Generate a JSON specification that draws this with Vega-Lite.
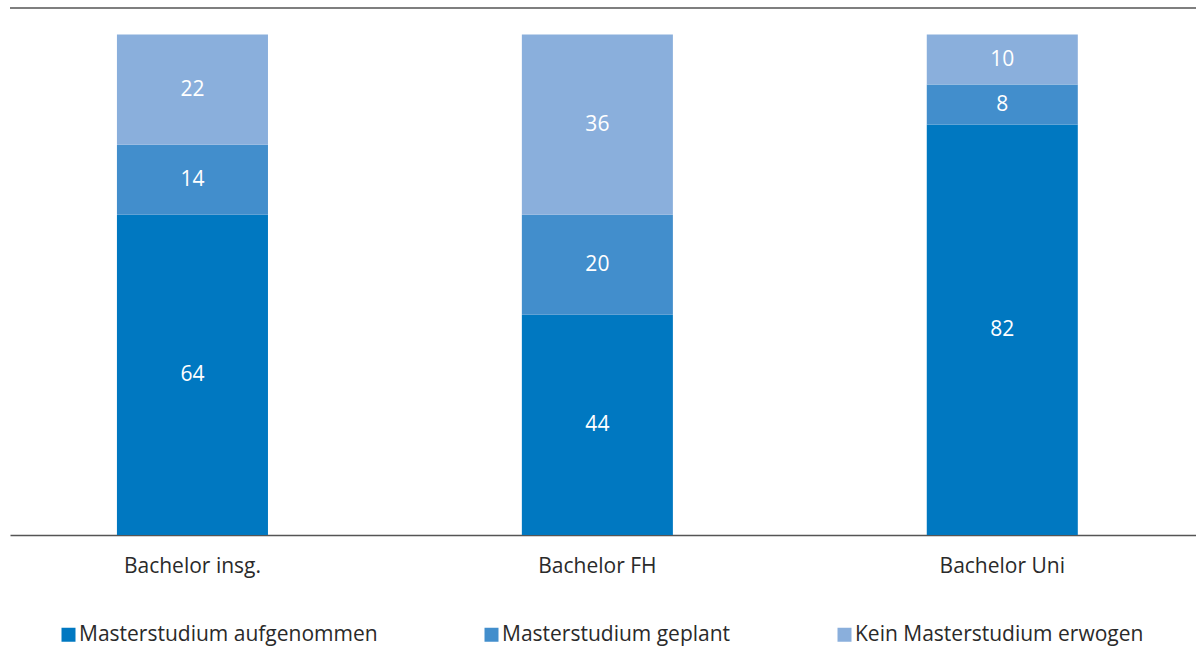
{
  "$schema": "https://vega.github.io/schema/vega-lite/v6.json",
  "width": 1186,
  "height": 527,
  "autosize": "none",
  "padding": {"left": 10, "top": 8, "right": 0, "bottom": 135},
  "background": "white",
  "config": {"view": {"stroke": null}, "font": "Open Sans"},
  "data": {
    "values": [
      {"gruppe": "Bachelor insg.", "kategorie": "Masterstudium aufgenommen", "rang": 1, "anteil": 64},
      {"gruppe": "Bachelor insg.", "kategorie": "Masterstudium geplant", "rang": 2, "anteil": 14},
      {"gruppe": "Bachelor insg.", "kategorie": "Kein Masterstudium erwogen", "rang": 3, "anteil": 22},
      {"gruppe": "Bachelor FH", "kategorie": "Masterstudium aufgenommen", "rang": 1, "anteil": 44},
      {"gruppe": "Bachelor FH", "kategorie": "Masterstudium geplant", "rang": 2, "anteil": 20},
      {"gruppe": "Bachelor FH", "kategorie": "Kein Masterstudium erwogen", "rang": 3, "anteil": 36},
      {"gruppe": "Bachelor Uni", "kategorie": "Masterstudium aufgenommen", "rang": 1, "anteil": 82},
      {"gruppe": "Bachelor Uni", "kategorie": "Masterstudium geplant", "rang": 2, "anteil": 8},
      {"gruppe": "Bachelor Uni", "kategorie": "Kein Masterstudium erwogen", "rang": 3, "anteil": 10}
    ]
  },
  "transform": [
    {"stack": "anteil", "groupby": ["gruppe"], "sort": [{"field": "rang", "order": "ascending"}], "as": ["y0", "y1"]}
  ],
  "layer": [
    {
      "mark": {"type": "bar"},
      "encoding": {
        "x": {
          "field": "gruppe", "type": "nominal",
          "sort": ["Bachelor insg.", "Bachelor FH", "Bachelor Uni"],
          "scale": {"paddingInner": 0.627, "paddingOuter": 0.278, "align": 0.475},
          "axis": {"title": null, "ticks": false, "labelAngle": 0, "labelFontSize": 21, "labelColor": "#2a2a2a", "labelPadding": 20, "domainColor": "#555555", "domainWidth": 1.5, "labelFont": "Open Sans"}
        },
        "y": {"field": "y0", "type": "quantitative", "scale": {"domain": [0, 105.3], "nice": false}, "axis": null},
        "y2": {"field": "y1"},
        "color": {
          "field": "kategorie", "type": "nominal",
          "scale": {
            "domain": ["Masterstudium aufgenommen", "Masterstudium geplant", "Kein Masterstudium erwogen"],
            "range": ["#0078C1", "#428ECC", "#8AAFDC"]
          },
          "legend": {
            "title": null, "orient": "none", "direction": "horizontal",
            "legendX": 48, "legendY": 616,
            "symbolType": "square", "symbolSize": 196, "symbolStrokeWidth": 0,
            "labelFontSize": 21, "labelColor": "#2a2a2a", "labelOffset": 0,
            "labelLimit": 500, "columnPadding": 103, "labelFont": "Open Sans"
          }
        }
      }
    },
    {
      "transform": [
        {"fold": ["y0", "y1"], "as": ["grenze", "wert"]},
        {"aggregate": [{"op": "mean", "field": "wert", "as": "mitte"}], "groupby": ["gruppe", "kategorie", "anteil"]}
      ],
      "mark": {"type": "text", "color": "white", "fontSize": 21, "font": "Open Sans", "baseline": "middle", "align": "center"},
      "encoding": {
        "x": {"field": "gruppe", "type": "nominal", "sort": ["Bachelor insg.", "Bachelor FH", "Bachelor Uni"]},
        "y": {"field": "mitte", "type": "quantitative"},
        "text": {"field": "anteil", "type": "quantitative"}
      }
    },
    {
      "data": {"values": [{"oben": 105.3}]},
      "mark": {"type": "rule", "color": "#555555", "strokeWidth": 1.5},
      "encoding": {"y": {"field": "oben", "type": "quantitative"}}
    }
  ]
}
